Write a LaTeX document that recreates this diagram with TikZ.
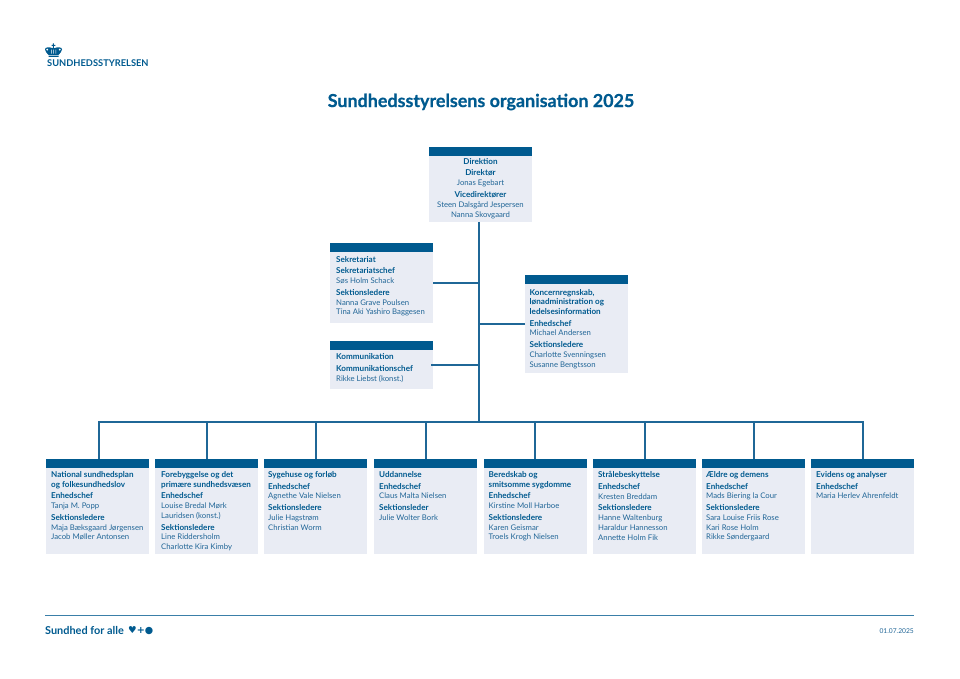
\documentclass[tikz,border=0pt]{standalone}
\usepackage{fontspec}
\setmainfont{Lato}
\newfontfamily\heavyfont[BoldFeatures={FakeBold=0.7}]{Lato}
\newfontfamily\symfont{DejaVu Sans}
\usetikzlibrary{calc,positioning}
\definecolor{sstblue}{HTML}{005A8F}
\definecolor{sstname}{HTML}{216697}
\definecolor{sstline}{HTML}{1F6797}
\definecolor{sstrule}{HTML}{3A7FA8}
\definecolor{sstbody}{HTML}{E9ECF4}
\newcommand{\hd}[1]{{\fontsize{8.1}{9.7}\selectfont\bfseries\color{sstblue}#1}}
\newcommand{\nm}[1]{{\fontsize{7.75}{9.7}\selectfont\color{sstname}#1}}
\tikzset{
	boxbody/.style={fill=sstbody, inner sep=0pt, minimum width=103pt, anchor=north west},
	boxbar/.style={fill=sstblue, inner sep=0pt, minimum width=103pt, minimum height=9pt, anchor=north},
	boxtext/.style={inner sep=0pt, anchor=north west, align=left, font=\fontsize{7.9}{9.7}\selectfont},
	boxcenter/.style={boxtext, anchor=north, align=center},
	conn/.style={draw=sstline, line width=1.9pt},
}
\begin{document}
\begin{tikzpicture}[x=1pt,y=-1pt]
		\useasboundingbox (0,0) rectangle (960,679);

		\node[inner sep=0pt]	(title)		at	(481,102)		{\fontsize{17.9}{20}\selectfont\heavyfont\bfseries\color{sstblue}Sundhedsstyrelsens organisation 2025};

		\fill[sstblue] (52.9,43.5) rectangle (53.9,48.5) (51.5,44.8) rectangle (55.3,45.8)
			(48.5,55.6) rectangle (58.5,57)
			(48.5,54.8) .. controls (47.5,53) and (45,52.5) .. (45,49.5) .. controls (45,47) and (49,46.5) .. (53.4,48.5)
			.. controls (58,46.5) and (62,47) .. (62,49.5) .. controls (62,52.5) and (59.5,53) .. (58.5,54.8) -- cycle;
		\fill[white] (47.2,49.6) circle (1pt) (59.8,49.6) circle (1pt);
		\fill[white] (51,49.6) rectangle (51.5,53.6) (53.2,49.6) rectangle (53.7,53.6) (55.5,49.6) rectangle (56,53.6);
		\node[inner sep=0pt,anchor=west]	(logotext)	at	(47,63.5)	{\fontsize{9.3}{10}\selectfont\bfseries\color{sstblue}SUNDHEDSSTYRELSEN};

		\node[boxbody,minimum height=74.5pt]	(dirbody)	at	(429,147)	{};
		\node[boxbar]				(dirbar)	at	(dirbody.north)	{};
		\node[boxcenter]			(dirtext)	at	(480.5,158.5)	{\hd{Direktion}\\[1.5pt]\hd{Direktør}\\[.3pt]\nm{Jonas Egebart}\\[2.1pt]\hd{Vicedirektører}\\[.3pt]\nm{Steen Dalsgård Jespersen}\\\nm{Nanna Skovgaard}};

		\node[boxbody,minimum height=80pt]	(sekbody)	at	(330,243)	{};
		\node[boxbar]				(sekbar)	at	(sekbody.north)	{};
		\node[boxtext]				(sektext)	at	(336,256)	{\hd{Sekretariat}\\[1.9pt]\hd{Sekretariatschef}\\\nm{Søs Holm Schack}\\[2.2pt]\hd{Sektionsledere}\\\nm{Nanna Grave Poulsen}\\\nm{Tina Aki Yashiro Baggesen}};

		\node[boxbody,minimum height=98pt]	(konbody)	at	(525,275)	{};
		\node[boxbar]				(konbar)	at	(konbody.north)	{};
		\node[boxtext]				(kontext)	at	(529.5,289)	{\hd{Koncernregnskab,}\\\hd{lønadministration og}\\\hd{ledelsesinformation}\\[1.9pt]\hd{Enhedschef}\\\nm{Michael Andersen}\\[2.2pt]\hd{Sektionsledere}\\\nm{Charlotte Svenningsen}\\\nm{Susanne Bengtsson}};

		\node[boxbody,minimum height=48pt]	(kombody)	at	(330,341)	{};
		\node[boxbar]				(kombar)	at	(kombody.north)	{};
		\node[boxtext]				(komtext)	at	(336,353.5)	{\hd{Kommunikation}\\[1.9pt]\hd{Kommunikationschef}\\\nm{Rikke Liebst (konst.)}};

		\node[boxbody,minimum height=95pt]	(natbody)	at	(45.5,459)	{};
		\node[boxbar]				(natbar)	at	(natbody.north)	{};
		\node[boxtext]				(nattext)	at	(51,471.3)	{\hd{National sundhedsplan}\\\hd{og folkesundhedslov}\\[1.9pt]\hd{Enhedschef}\\\nm{Tanja M. Popp}\\[2.2pt]\hd{Sektionsledere}\\\nm{Maja Bæksgaard Jørgensen}\\\nm{Jacob Møller Antonsen}};

		\node[boxbody,minimum height=95pt]	(forbody)	at	(155,459)	{};
		\node[boxbar]				(forbar)	at	(forbody.north)	{};
		\node[boxtext]				(fortext)	at	(161,471.3)	{\hd{Forebyggelse og det}\\\hd{primære sundhedsvæsen}\\[1.9pt]\hd{Enhedschef}\\\nm{Louise Bredal Mørk}\\\nm{Lauridsen (konst.)}\\[2.2pt]\hd{Sektionsledere}\\\nm{Line Riddersholm}\\\nm{Charlotte Kira Kimby}};

		\node[boxbody,minimum height=95pt]	(sygbody)	at	(264,459)	{};
		\node[boxbar]				(sygbar)	at	(sygbody.north)	{};
		\node[boxtext]				(sygtext)	at	(268,471.3)	{\hd{Sygehuse og forløb}\\[1.9pt]\hd{Enhedschef}\\\nm{Agnethe Vale Nielsen}\\[2.2pt]\hd{Sektionsledere}\\\nm{Julie Hagstrøm}\\\nm{Christian Worm}};

		\node[boxbody,minimum height=95pt]	(uddbody)	at	(374,459)	{};
		\node[boxbar]				(uddbar)	at	(uddbody.north)	{};
		\node[boxtext]				(uddtext)	at	(379,471.3)	{\hd{Uddannelse}\\[1.9pt]\hd{Enhedschef}\\\nm{Claus Malta Nielsen}\\[2.2pt]\hd{Sektionsleder}\\\nm{Julie Wolter Bork}};

		\node[boxbody,minimum height=95pt]	(berbody)	at	(483.5,459)	{};
		\node[boxbar]				(berbar)	at	(berbody.north)	{};
		\node[boxtext]				(bertext)	at	(488.5,471.3)	{\hd{Beredskab og}\\\hd{smitsomme sygdomme}\\[1.9pt]\hd{Enhedschef}\\\nm{Kirstine Moll Harboe}\\[2.2pt]\hd{Sektionsledere}\\\nm{Karen Geismar}\\\nm{Troels Krogh Nielsen}};

		\node[boxbody,minimum height=95pt]	(strbody)	at	(593,459)	{};
		\node[boxbar]				(strbar)	at	(strbody.north)	{};
		\node[boxtext]				(strtext)	at	(598,471.3)	{\hd{Strålebeskyttelse}\\[1.9pt]\hd{Enhedschef}\\\nm{Kresten Breddam}\\[2.2pt]\hd{Sektionsledere}\\\nm{Hanne Waltenburg}\\\nm{Haraldur Hannesson}\\\nm{Annette Holm Fik}};

		\node[boxbody,minimum height=95pt]	(aelbody)	at	(702,459)	{};
		\node[boxbar]				(aelbar)	at	(aelbody.north)	{};
		\node[boxtext]				(aeltext)	at	(706,471.3)	{\hd{Ældre og demens}\\[1.9pt]\hd{Enhedschef}\\\nm{Mads Biering la Cour}\\[2.2pt]\hd{Sektionsledere}\\\nm{Sara Louise Friis Rose}\\\nm{Kari Rose Holm}\\\nm{Rikke Søndergaard}};

		\node[boxbody,minimum height=95pt]	(evibody)	at	(811,459)	{};
		\node[boxbar]				(evibar)	at	(evibody.north)	{};
		\node[boxtext]				(evitext)	at	(816,471.3)	{\hd{Evidens og analyser}\\[1.9pt]\hd{Enhedschef}\\\nm{Maria Herlev Ahrenfeldt}};

		\coordinate				(bus)		at	(479,422);
		\coordinate				(natdrop)	at	(99,422);
		\draw[conn] (dirbody.south -| bus) -- (bus);
		\draw[conn] (sekbody.east) -- (sekbody.east -| bus);
		\draw[conn] (konbody.west) -- (konbody.west -| bus);
		\draw[conn,shorten <=-2pt] (kombody.east) -- (kombody.east -| bus);
		\draw[conn] (natbar.north -| natdrop) -- (natdrop) -- (bus);
		\draw[conn] (forbar.north) |- (bus);
		\draw[conn] (sygbar.north) |- (bus);
		\draw[conn] (uddbar.north) |- (bus);
		\draw[conn] (berbar.north) |- (bus);
		\draw[conn] (strbar.north) |- (bus);
		\draw[conn] (aelbar.north) |- (bus);
		\draw[conn] (evibar.north) |- (bus);

		\coordinate				(footl)		at	(45,615.5);
		\coordinate				(footr)		at	(914,615.5);
		\draw[sstrule,line width=0.9pt] (footl) -- (footr);
		\node[inner sep=0pt,anchor=west]	(slogan)	at	(45,630.5)	{\fontsize{10.9}{12}\selectfont\bfseries\color{sstblue}Sundhed for alle};
		\node[inner sep=0pt,anchor=west]	(symbols)	at	(128,630.5)	{\fontsize{9.6}{11}\selectfont\symfont\bfseries\color{sstblue}♥+●};
		\node[inner sep=0pt,anchor=east]	(date)		at	(914,631)	{\fontsize{6.7}{9}\selectfont\color{sstname}01.07.2025};
\end{tikzpicture}
\end{document}
